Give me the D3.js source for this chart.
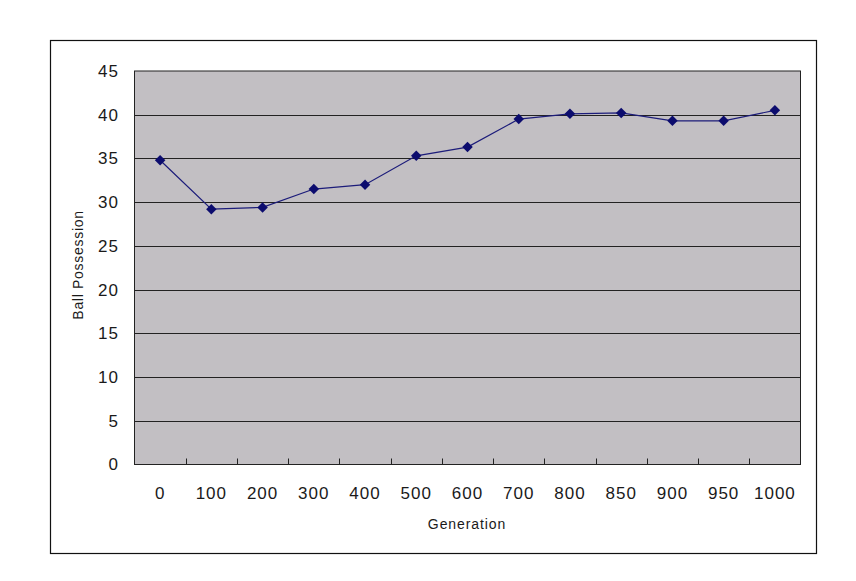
<!DOCTYPE html>
<html>
<head>
<meta charset="utf-8">
<script src="https://cdn.jsdelivr.net/npm/d3@7"></script>
<style>
body { margin: 0; background: #fff; }
text { font-family: Arial, "Liberation Sans", sans-serif; fill: #1a1a1a; }
</style>
</head>
<body>
<svg></svg>
<script>
const width = 856
const height = 581

// data
const generations = ['0', '100', '200', '300', '400', '500', '600', '700', '800', '850', '900', '950', '1000']
const possession = [34.8, 29.2, 29.4, 31.5, 32.0, 35.3, 36.3, 39.5, 40.1, 40.2, 39.3, 39.3, 40.5]
const yTicks = [0, 5, 10, 15, 20, 25, 30, 35, 40, 45]

const plot = { left: 134.5, top: 71, right: 800.5, bottom: 464.5 }

const svg = d3.select('svg')
	.attr('width', width)
	.attr('height', height)

// outer chart frame
svg.append('rect')
	.attr('x', 50.5).attr('y', 40.5)
	.attr('width', 766).attr('height', 513)
	.attr('fill', '#fff')
	.attr('stroke', '#111')
	.attr('stroke-width', 1.2)

const x = d3.scaleBand()
	.domain(generations)
	.range([plot.left, plot.right])

const y = d3.scaleLinear()
	.domain([0, 45])
	.range([plot.bottom, plot.top])

svg.append('rect')
	.attr('x', plot.left).attr('y', plot.top)
	.attr('width', plot.right - plot.left)
	.attr('height', plot.bottom - plot.top)
	.attr('fill', '#c2bfc3')
	.attr('stroke', '#222')
	.attr('stroke-width', 1)

// horizontal gridlines
svg.append('g')
	.selectAll('line')
	.data(yTicks.filter(d => d > 0 && d < 45))
	.enter()
	.append('line')
	.attr('x1', plot.left).attr('x2', plot.right)
	.attr('y1', d => Math.round(y(d)) + 0.5)
	.attr('y2', d => Math.round(y(d)) + 0.5)
	.attr('stroke', '#222')
	.attr('stroke-width', 1)

// y axis labels
svg.append('g')
	.selectAll('text')
	.data(yTicks)
	.enter()
	.append('text')
	.attr('x', 119)
	.attr('y', d => y(d))
	.attr('dy', '0.35em')
	.attr('text-anchor', 'end')
	.attr('font-size', 17)
	.attr('letter-spacing', 1)
	.text(d => d)

// x axis ticks between categories
svg.append('g')
	.selectAll('line')
	.data(generations.slice(1))
	.enter()
	.append('line')
	.attr('x1', d => Math.round(x(d)) + 0.5)
	.attr('x2', d => Math.round(x(d)) + 0.5)
	.attr('y1', plot.bottom - 6)
	.attr('y2', plot.bottom)
	.attr('stroke', '#222')

svg.append('g')
	.selectAll('text')
	.data(generations)
	.enter()
	.append('text')
	.attr('x', d => x(d) + x.bandwidth() / 2)
	.attr('y', 493)
	.attr('dy', '0.35em')
	.attr('text-anchor', 'middle')
	.attr('font-size', 17)
	.attr('letter-spacing', 1)
	.text(d => d)

svg.append('text')
	.attr('x', 467).attr('y', 524)
	.attr('dy', '0.35em')
	.attr('text-anchor', 'middle')
	.attr('font-size', 14)
	.attr('letter-spacing', 0.9)
	.text('Generation')

svg.append('text')
	.attr('transform', 'translate(78,265) rotate(-90)')
	.attr('dy', '0.35em')
	.attr('text-anchor', 'middle')
	.attr('font-size', 14)
	.attr('letter-spacing', 0.7)
	.text('Ball Possession')

const cx = (d, i) => x(generations[i]) + x.bandwidth() / 2

const line = d3.line()
	.x((d, i) => cx(d, i))
	.y(d => y(d))

svg.append('path')
	.datum(possession)
	.attr('d', line)
	.attr('fill', 'none')
	.attr('stroke', '#1c1c7a')
	.attr('stroke-width', 1.2)

svg.append('g')
	.selectAll('path')
	.data(possession)
	.enter()
	.append('path')
	.attr('d', d3.symbol().type(d3.symbolDiamond2).size(70))
	.attr('transform', (d, i) => 'translate(' + cx(d, i) + ',' + y(d) + ')')
	.attr('fill', '#0c0c6e')
</script>
</body>
</html>
